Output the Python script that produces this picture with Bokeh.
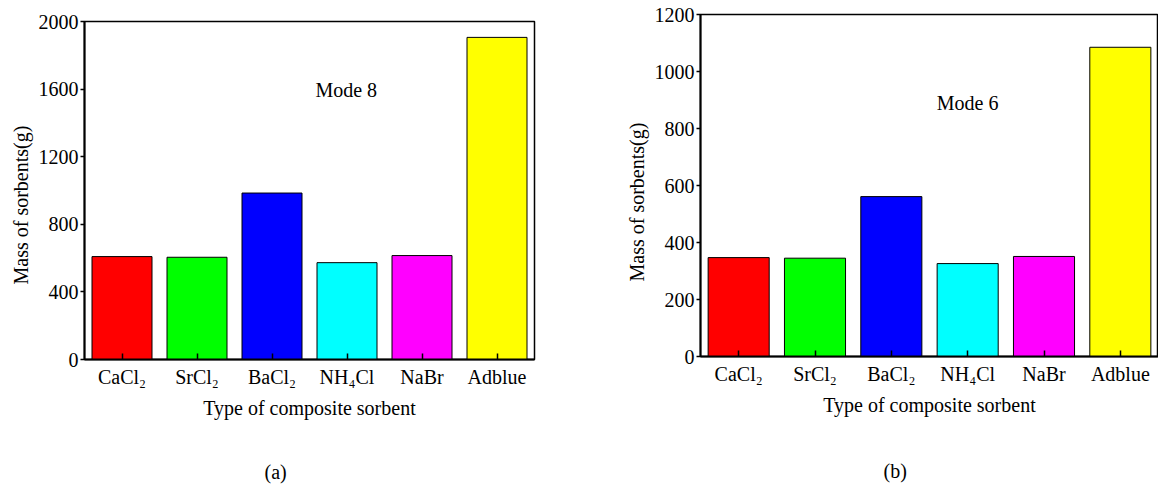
from bokeh.plotting import figure
from bokeh.models import FactorRange, Range1d, Label, FixedTicker, ColumnDataSource, Title, Spacer
from bokeh.layouts import row, column
from bokeh.embed import file_html
from bokeh.resources import INLINE

categories = ["CaCl\u2082", "SrCl\u2082", "BaCl\u2082", "NH\u2084Cl", "NaBr", "Adblue"]
colors = ["#FF0000", "#00FF00", "#0000FF", "#00FFFF", "#FF00FF", "#FFFF00"]
mode8_mass = [609, 605, 985, 573, 615, 1906]
mode6_mass = [347, 345, 561, 326, 351, 1085]
mode8_ticks = [0, 400, 800, 1200, 1600, 2000]
mode6_ticks = [0, 200, 400, 600, 800, 1000, 1200]

FONT = "Liberation Serif"


def make_panel(values, ymax, ticks, mode_text, mode_xy, tag, tag_offset, tag_standoff,
               frame_w, frame_h, bl, br, bt, bb):
    p = figure(x_range=FactorRange(factors=categories, range_padding=0),
               y_range=Range1d(0, ymax),
               frame_width=frame_w, frame_height=frame_h,
               min_border_left=bl, min_border_right=br,
               min_border_top=bt, min_border_bottom=bb,
               output_backend="svg", toolbar_location=None)
    src = ColumnDataSource(dict(cat=categories, val=values, color=colors))
    p.vbar(x="cat", top="val", width=0.8, source=src, fill_color="color",
           line_color="black", line_width=1)
    p.xgrid.visible = False
    p.ygrid.visible = False
    p.outline_line_color = "black"
    p.outline_line_width = 1.5
    p.background_fill_color = "white"
    p.border_fill_color = "white"

    xa = p.xaxis[0]
    xa.axis_label = "Type of composite sorbent"
    xa.major_tick_in = 6
    xa.major_tick_out = 0
    xa.minor_tick_line_color = None
    xa.axis_line_width = 2
    xa.major_tick_line_width = 1.5
    xa.major_label_standoff = 6
    xa.axis_label_standoff = 6
    xa.major_label_text_font = FONT
    xa.major_label_text_font_size = "20px"
    xa.major_label_text_color = "black"
    xa.axis_label_text_font = FONT
    xa.axis_label_text_font_size = "20px"
    xa.axis_label_text_font_style = "normal"
    xa.axis_label_text_color = "black"

    ya = p.yaxis[0]
    ya.ticker = FixedTicker(ticks=ticks)
    ya.major_tick_in = 0
    ya.major_tick_out = 4
    ya.minor_tick_line_color = None
    ya.axis_line_width = 2
    ya.major_tick_line_width = 1.5
    ya.major_label_standoff = 2
    ya.major_label_text_font = FONT
    ya.major_label_text_font_size = "20px"
    ya.major_label_text_color = "black"

    # y-axis title, placed slightly below the frame centre as in the reference
    p.add_layout(Title(text="Mass of sorbents(g)", align="left", offset=75,
                       standoff=8, text_font=FONT, text_font_size="20px",
                       text_font_style="normal", text_color="black"), "left")

    p.add_layout(Label(x=mode_xy[0], y=mode_xy[1], text=mode_text,
                       text_font=FONT, text_font_size="20px",
                       text_align="center", text_baseline="middle",
                       text_color="black"))
    p.add_layout(Title(text=tag, align="left", offset=tag_offset,
                       standoff=tag_standoff, text_font=FONT, text_font_size="20px",
                       text_font_style="normal", text_color="black"), "below")
    return p


p1 = make_panel(mode8_mass, 2000, mode8_ticks, "Mode 8", (3.49, 1592),
                "(a)", 180, 74, 450, 338, 84, 16, 14, 125)
p2 = make_panel(mode6_mass, 1200, mode6_ticks, "Mode 6", (3.5, 889),
                "(b)", 183, 79, 458, 342, 150, 0, 14, 128)

layout = row(column(Spacer(height=7), p1), column(p2))
open("out.html", "w").write(file_html(layout, INLINE))
